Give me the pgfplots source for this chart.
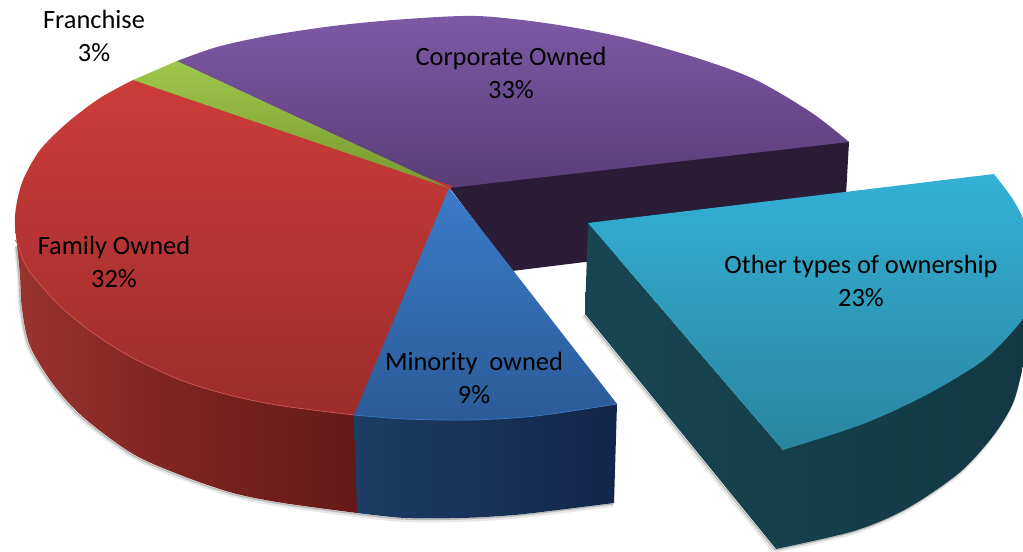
\documentclass[border=0pt]{standalone}
\usepackage{fontspec}
\setmainfont{Carlito}
\usepackage{pgfplots}
\usepackage{pgfplotstable}
\pgfplotsset{compat=1.18}

% outer arcs, in pixels; the straight edges are added per plot
\pgfplotstableread{
x y
177 61
217 47
267 36
333 26
400 19.5
477 16
552 24
626 38
700 59
756 80
812 113
849 142
}\purplearc
\pgfplotstableread{
x y
449 187
845 140.5
849 142
846 195
846 232
585 262
512 271
}\purpleside
\pgfplotstableread{
x y
449 188
133 80
177 61
}\greentop
\pgfplotstableread{
x y
133 80
100 98
67 123
40 150
23 180
16 207
15 227
18 245
24 262
33 276
60 306
93 333
133 358
183 381
233 396
283 406
354 415
}\redarc
\pgfplotstableread{
x y
15 227
17 245
20 276
22 309
30 346
53 384
83 417
133 454
183 476
233 493
283 503
357 513
}\redbottom
\pgfplotstableread{
x y
354 415
405 419
471 420
536 416
617 404
}\bluearc
\pgfplotstableread{
x y
614 503
566 509
514 515
462 518
405 518
357 513
}\bluebottom
\pgfplotstableread{
x y
994 174
1012 198
1023 218
1032 240
1036 270
1031 300
1023 319
985 359
928 394
863 424
783 450
}\tealarc
\pgfplotstableread{
x y
776 549
854 531
906 509
959 473
993 436
1013 403
1023 366
1030 330
1031 300
}\tealbottom
\pgfplotstableread{
x y
585 314
776 549
}\tealedge
\pgfplotstableread{
x y
17 245
20 276
22 309
30 346
53 384
83 417
133 454
183 476
233 493
283 503
357 513
405 518
462 518
514 515
566 509
614 503
}\pieshadow
\pgfplotstableread{
x y
15 240
18 245
24 262
33 276
60 306
93 333
133 358
183 381
233 396
283 406
354 415
}\redrim

\definecolor{purpA}{HTML}{7E59A6}
\definecolor{purpB}{HTML}{5A3C78}
\definecolor{purpS}{HTML}{2A1C36}
\definecolor{grnA}{HTML}{9FC74B}
\definecolor{grnB}{HTML}{77982F}
\definecolor{redA}{HTML}{CC3C39}
\definecolor{redB}{HTML}{9C2D2C}
\definecolor{redL}{HTML}{993330}
\definecolor{redM}{HTML}{7C2320}
\definecolor{redR}{HTML}{651A18}
\definecolor{bluA}{HTML}{3B7BC9}
\definecolor{bluB}{HTML}{2B5B97}
\definecolor{bluL}{HTML}{1C3D64}
\definecolor{bluR}{HTML}{13264A}
\definecolor{tealA}{HTML}{33B1D6}
\definecolor{tealB}{HTML}{2A859F}
\definecolor{tealL}{HTML}{174652}
\definecolor{tealR}{HTML}{123843}

\tikzset{lab/.style={font=\fontsize{19.8}{24.75}\selectfont, align=center}}

\begin{document}
\begin{tikzpicture}
\begin{axis}[
    hide axis,
    scale only axis,
    width=767.25pt,
    height=414pt,
    xmin=0, xmax=1023,
    ymin=0, ymax=552,
    y dir=reverse,
    enlargelimits=false,
    clip=true,
]
% soft edge under the pie
\addplot[smooth, draw=gray!18, line width=3pt] table[x expr=\thisrow{x}-1, y expr=\thisrow{y}+2] {\pieshadow};
\addplot[smooth, draw=gray!18, line width=3pt] table[x expr=\thisrow{x}-2, y expr=\thisrow{y}+2] {\tealbottom};
\addplot[draw=gray!18, line width=3pt] table[x expr=\thisrow{x}-2, y expr=\thisrow{y}+2] {\tealedge};
\addplot[smooth, draw=gray!55, line width=1pt] table[x expr=\thisrow{x}-1, y expr=\thisrow{y}+1] {\pieshadow};
\addplot[smooth, draw=gray!55, line width=1pt] table[x expr=\thisrow{x}-1, y expr=\thisrow{y}+1] {\tealbottom};
\addplot[draw=gray!55, line width=1pt] table[x expr=\thisrow{x}-1, y expr=\thisrow{y}+1] {\tealedge};

% side walls; their upper edges run under the top faces
\addplot[draw=none, fill=purpS] table {\purpleside};
\addplot[smooth, draw=none, shade, left color=redL, right color=redR, middle color=redM] table {\redbottom}
    -- (axis cs:360,512) -- (axis cs:358,413) -- cycle;
\addplot[smooth, draw=none, shade, left color=bluL, right color=bluR] table {\bluebottom}
    -- (axis cs:354,415) -- (axis cs:617,404) -- cycle;

% top faces
\addplot[smooth, draw=none, shade, top color=purpA, bottom color=purpB] table {\purplearc}
    -- (axis cs:449,188) -- (axis cs:447,189) -- (axis cs:175,63.5) -- cycle;
\addplot[smooth, draw=none, shade, top color=redA, bottom color=redB] table {\redarc}
    -- (axis cs:358,415) -- (axis cs:452,186) -- (axis cs:137,80) -- cycle;
\addplot[draw=none, shade, top color=grnA, bottom color=grnB] table {\greentop};
\addplot[smooth, draw=none, shade, top color=bluA, bottom color=bluB] table {\bluearc}
    -- (axis cs:449,188) -- cycle;
\addplot[smooth, draw=redA!85!white, line width=0.5pt] table {\redrim};
\addplot[smooth, draw=bluA, line width=0.5pt] table {\bluearc};

% the piece that is pulled out
\addplot[smooth, draw=none, shade, left color=tealL, right color=tealR] table {\tealbottom}
    -- (axis cs:783,450) -- (axis cs:588,223) -- (axis cs:585,314) -- cycle;
\addplot[smooth, draw=none, shade, top color=tealA, bottom color=tealB] table {\tealarc}
    -- (axis cs:588,223) -- cycle;

\node[lab] at (axis cs:94,35.5) {Franchise\\3\%};
\node[lab] at (axis cs:511,73) {Corporate Owned\\33\%};
\node[lab] at (axis cs:114,261.5) {Family Owned\\32\%};
\node[lab] at (axis cs:474,377.5) {Minority\ \ owned\\9\%};
\node[lab] at (axis cs:861,281) {Other types of ownership\\23\%};
\end{axis}
\pgfresetboundingbox
\path (current axis.south west) rectangle (current axis.north east);
\end{tikzpicture}
\end{document}
